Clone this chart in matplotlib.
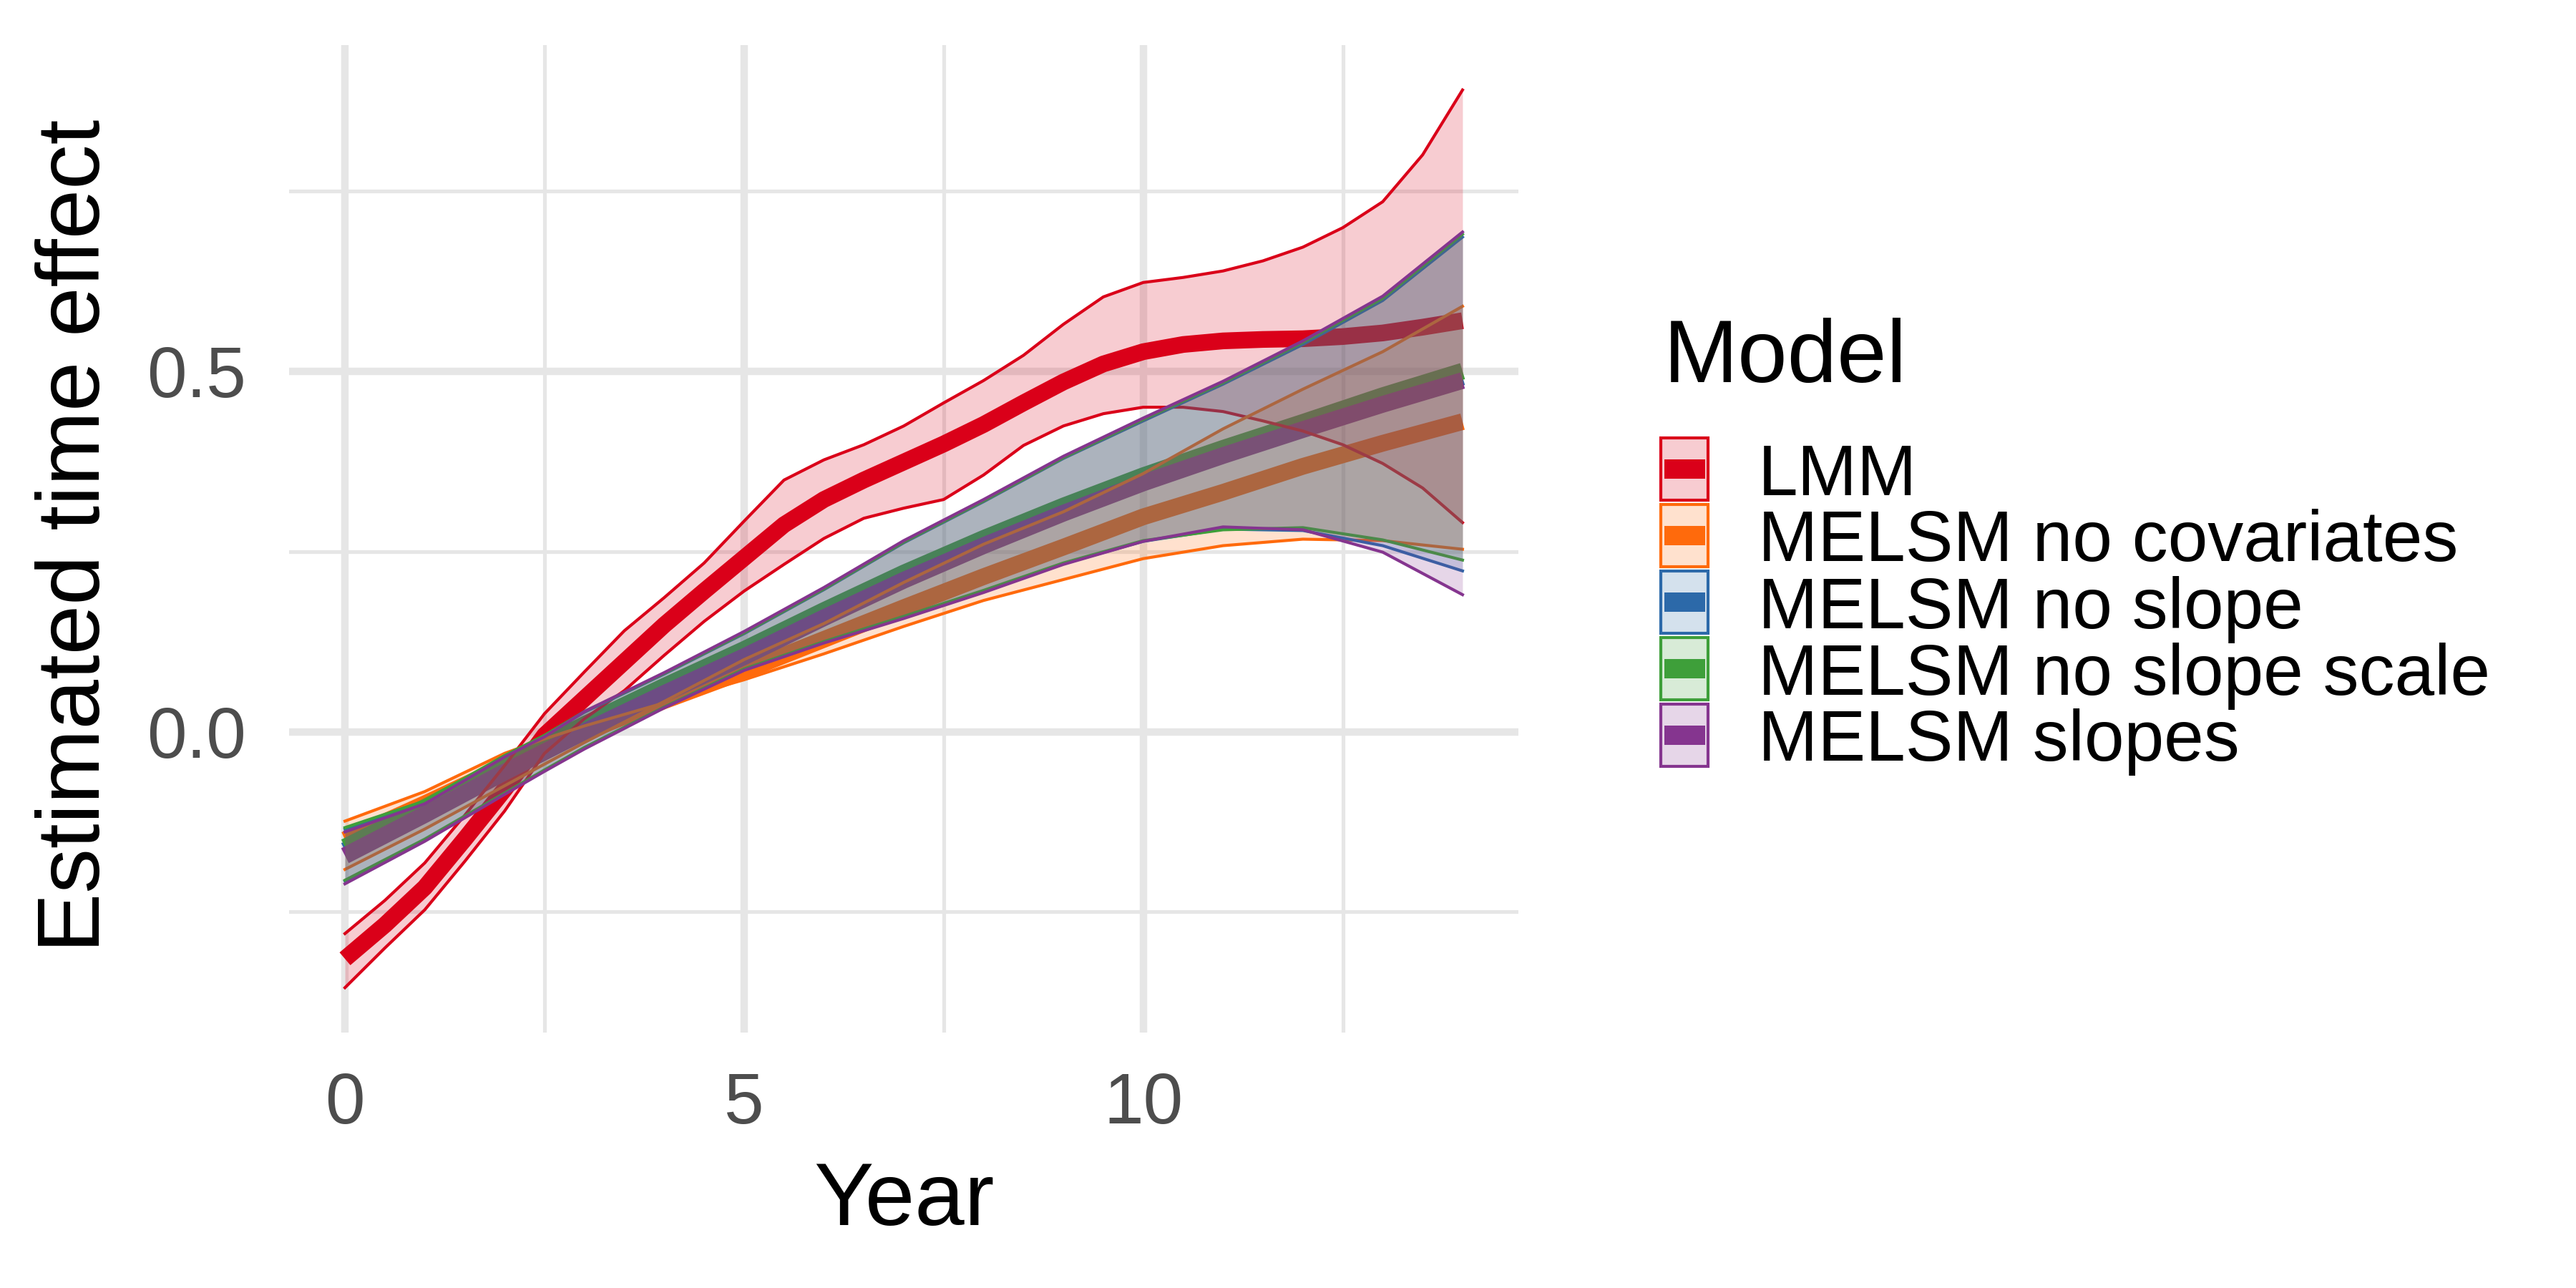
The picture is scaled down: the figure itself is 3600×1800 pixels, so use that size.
import matplotlib
matplotlib.use("Agg")
import matplotlib.pyplot as plt
from matplotlib.patches import Rectangle
from matplotlib.ticker import FixedLocator

plt.rcParams['font.family'] = ['Liberation Sans', 'DejaVu Sans']

# values
models = ["LMM", "MELSM no covariates", "MELSM no slope",
          "MELSM no slope scale", "MELSM slopes"]
colors = ["#DA0019", "#FF6A0C", "#2C69A9", "#3E9F3A", "#85358F"]

yrs_lmm = [0, 0.5, 1, 1.5, 2, 2.5, 3, 3.5, 4, 4.5, 5, 5.5, 6, 6.5, 7, 7.5,
           8, 8.5, 9, 9.5, 10, 10.5, 11, 11.5, 12, 12.5, 13, 13.5, 14]
lmm_mean = [-0.315, -0.268, -0.216, -0.149, -0.080, -0.005, 0.046, 0.097, 0.148,
            0.195, 0.241, 0.287, 0.322, 0.349, 0.374, 0.399, 0.426, 0.456, 0.485,
            0.510, 0.527, 0.537, 0.542, 0.544, 0.545, 0.548, 0.553, 0.561, 0.570]
lmm_hi = [-0.280, -0.234, -0.182, -0.116, -0.047, 0.025, 0.083, 0.140, 0.186,
          0.234, 0.292, 0.349, 0.377, 0.398, 0.424, 0.456, 0.487, 0.522, 0.565,
          0.603, 0.623, 0.630, 0.639, 0.653, 0.672, 0.699, 0.735, 0.800, 0.890]
lmm_lo = [-0.355, -0.300, -0.247, -0.180, -0.110, -0.030, 0.018, 0.057, 0.106,
          0.153, 0.195, 0.232, 0.268, 0.296, 0.310, 0.322, 0.356, 0.397, 0.424,
          0.441, 0.450, 0.450, 0.444, 0.431, 0.417, 0.398, 0.372, 0.338, 0.290]

yrs_m = [0, 1, 2, 2.5, 3, 4, 5, 6, 7, 8, 9, 10, 11, 12, 13, 14]
nocov_mean = [-0.150, -0.100, -0.048, -0.024, -0.001, 0.043, 0.084, 0.128,
              0.172, 0.215, 0.256, 0.298, 0.332, 0.368, 0.400, 0.430]
nocov_a = [-0.124, -0.083, -0.030, -0.010, 0.008, 0.040, 0.072, 0.108,
           0.146, 0.182, 0.211, 0.240, 0.258, 0.267, 0.265, 0.253]
nocov_b = [-0.191, -0.135, -0.075, -0.045, -0.015, 0.042, 0.100, 0.150,
           0.207, 0.260, 0.305, 0.358, 0.420, 0.475, 0.527, 0.590]

noslope_mean = [-0.165, -0.110, -0.051, -0.023, 0.005, 0.058, 0.109, 0.163,
                0.215, 0.263, 0.308, 0.350, 0.388, 0.424, 0.459, 0.492]
noslope_hi = [-0.135, -0.097, -0.034, -0.006, 0.027, 0.080, 0.136, 0.197,
              0.262, 0.319, 0.379, 0.431, 0.482, 0.537, 0.598, 0.686]
noslope_lo = [-0.207, -0.150, -0.086, -0.054, -0.022, 0.034, 0.086, 0.124,
              0.159, 0.195, 0.233, 0.264, 0.281, 0.279, 0.258, 0.223]

noscale_mean = [-0.160, -0.105, -0.046, -0.018, 0.010, 0.063, 0.114, 0.168,
                0.220, 0.268, 0.313, 0.355, 0.393, 0.429, 0.466, 0.500]
noscale_hi = [-0.133, -0.096, -0.033, -0.005, 0.028, 0.081, 0.137, 0.198,
              0.263, 0.320, 0.380, 0.433, 0.484, 0.540, 0.601, 0.690]
noscale_lo = [-0.206, -0.149, -0.085, -0.053, -0.022, 0.034, 0.087, 0.125,
              0.160, 0.196, 0.234, 0.265, 0.280, 0.283, 0.266, 0.238]

slopes_mean = [-0.172, -0.115, -0.056, -0.028, 0.000, 0.053, 0.104, 0.158,
               0.210, 0.258, 0.303, 0.345, 0.383, 0.419, 0.454, 0.487]
slopes_hi = [-0.139, -0.100, -0.035, -0.007, 0.028, 0.082, 0.139, 0.200,
             0.265, 0.322, 0.382, 0.435, 0.486, 0.542, 0.604, 0.693]
slopes_lo = [-0.211, -0.152, -0.087, -0.055, -0.024, 0.033, 0.085, 0.123,
             0.157, 0.193, 0.232, 0.264, 0.284, 0.280, 0.249, 0.190]

series = [
    (yrs_lmm, lmm_mean, lmm_lo, lmm_hi),
    (yrs_m, nocov_mean, nocov_a, nocov_b),
    (yrs_m, noslope_mean, noslope_lo, noslope_hi),
    (yrs_m, noscale_mean, noscale_lo, noscale_hi),
    (yrs_m, slopes_mean, slopes_lo, slopes_hi),
]

W, H = 3600, 1800
fig = plt.figure(figsize=(12, 6), dpi=300)
ax = fig.add_axes([404 / W, 1 - 1443 / H, (2122 - 404) / W, (1443 - 63) / H])

# lines first, ribbons on top (as in the original)
for (x, m, lo, hi), c in zip(series, colors):
    ax.plot(x, m, color=c, lw=5.6, solid_capstyle='butt',
            solid_joinstyle='round', zorder=2)
for (x, m, lo, hi), c in zip(series, colors):
    ax.fill_between(x, lo, hi, color=c, alpha=0.2, lw=0, zorder=3)
    ax.plot(x, lo, color=c, lw=1.0, zorder=3)
    ax.plot(x, hi, color=c, lw=1.0, zorder=3)

# ggplot style 5% expansion
allx = yrs_lmm + yrs_m
ally = lmm_lo + lmm_hi + nocov_a + nocov_b + noslope_lo + noslope_hi + \
    noscale_lo + noscale_hi + slopes_lo + slopes_hi
dx = (max(allx) - min(allx)) * 0.05
dy = (max(ally) - min(ally)) * 0.05
ax.set_xlim(min(allx) - dx, max(allx) + dx)
ax.set_ylim(min(ally) - dy, max(ally) + dy)

ax.set_xticks([0, 5, 10])
ax.set_xticklabels(["0", "5", "10"])
ax.set_yticks([0.0, 0.5])
ax.set_yticklabels(["0.0", "0.5"])
ax.xaxis.set_minor_locator(FixedLocator([2.5, 7.5, 12.5]))
ax.yaxis.set_minor_locator(FixedLocator([-0.25, 0.25, 0.75]))
ax.grid(which='major', color='#E6E6E6', lw=2.5)
ax.grid(which='minor', color='#E6E6E6', lw=1.25)
ax.set_axisbelow(True)
for s in ax.spines.values():
    s.set_visible(False)
ax.tick_params(which='both', length=0)
ax.tick_params(axis='x', labelsize=24, labelcolor='#4D4D4D', pad=13)
ax.tick_params(axis='y', labelsize=24, labelcolor='#4D4D4D', pad=14.5)

fig.text(107 / W, 1 - 749 / H, "Estimated time effect", rotation=90,
         ha='center', va='center', fontsize=30)
fig.text(1263 / W, 1 - 1712 / H, "Year", ha='center', va='baseline', fontsize=30)

# legend, built by hand to keep ggplot's key geometry
fig.text(2325 / W, 1 - 534 / H, "Model", ha='left', va='baseline', fontsize=30)
for i, (name, c) in enumerate(zip(models, colors)):
    top = 612 + i * 93
    fig.add_artist(Rectangle((2321 / W, 1 - (top + 87) / H), 66 / W, 87 / H,
                             transform=fig.transFigure, facecolor=c, alpha=0.2,
                             edgecolor='none'))
    fig.add_artist(Rectangle((2321 / W, 1 - (top + 87) / H), 66 / W, 87 / H,
                             transform=fig.transFigure, facecolor='none',
                             edgecolor=c, lw=1.0))
    fig.add_artist(Rectangle((2326 / W, 1 - (top + 43.5 + 13.5) / H), 57 / W, 27 / H,
                             transform=fig.transFigure, facecolor=c, edgecolor='none'))
    fig.text(2457 / W, 1 - (top + 43.5 + 36) / H, name, ha='left', va='baseline',
             fontsize=24)

fig.savefig("out.png", dpi=300, facecolor='white')
